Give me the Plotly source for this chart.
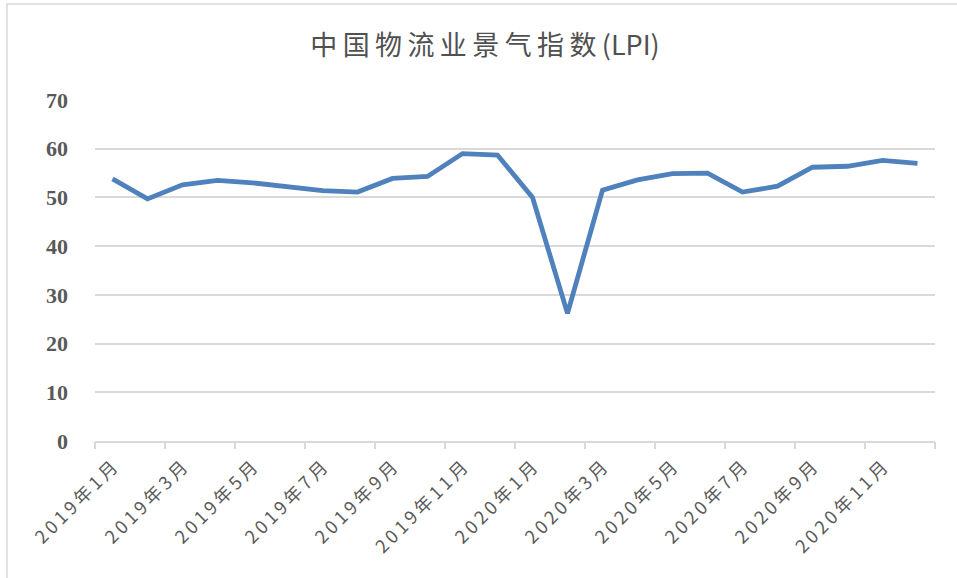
import plotly.graph_objects as go

months = ["2019年1月", "2019年2月", "2019年3月", "2019年4月", "2019年5月", "2019年6月",
          "2019年7月", "2019年8月", "2019年9月", "2019年10月", "2019年11月", "2019年12月",
          "2020年1月", "2020年2月", "2020年3月", "2020年4月", "2020年5月", "2020年6月",
          "2020年7月", "2020年8月", "2020年9月", "2020年10月", "2020年11月", "2020年12月"]
lpi = [53.8, 49.7, 52.6, 53.5, 53.0, 52.2, 51.4, 51.1, 53.9, 54.3,
       59.0, 58.7, 50.0, 26.2, 51.5, 53.6, 54.9, 55.0, 51.1, 52.3,
       56.2, 56.4, 57.6, 57.0]
y_ticks = [0, 10, 20, 30, 40, 50, 60, 70]
title_cjk = "中国物流业景气指数"
title_tail = "(LPI)"

TS = "\u2009"
def spaced(s, sep=TS):
    return sep.join(list(s))

idx = list(range(len(months)))
label_idx = idx[::2]
label_text = [spaced(months[i]) for i in label_idx]
tick_marks = [i - 0.5 for i in idx[::2]] + [len(months) - 0.5]

fig = go.Figure()
fig.add_trace(go.Scatter(
    x=idx, y=lpi, mode="lines",
    line=dict(color="#4F81BD", width=4.8),
    showlegend=False, hoverinfo="x+y",
))
# invisible trace on secondary x axis for tick marks between category pairs
fig.add_trace(go.Scatter(x=[tick_marks[0], tick_marks[-1]], y=[0, 0], xaxis="x2",
                         mode="lines", line=dict(width=0), showlegend=False, hoverinfo="skip"))

fig.update_layout(
    width=957, height=578,
    paper_bgcolor="white", plot_bgcolor="white",
    margin=dict(l=95, r=22, t=100, b=137, autoexpand=False),
    title=dict(text=spaced(title_cjk) + TS + title_tail, x=485 / 957, xref="container",
               xanchor="center", y=1 - 46 / 578, yanchor="middle",
               font=dict(family="Noto Sans CJK SC", size=27, color="#505050")),
    xaxis=dict(range=[-0.5, len(months) - 0.5], tickmode="array", tickvals=label_idx,
               ticktext=label_text, tickangle=-45, ticks="", showgrid=False,
               showline=True, linecolor="#D9D9D9", linewidth=1.5, zeroline=False,
               automargin=False, ticklabelstandoff=7,
               tickfont=dict(family="Noto Sans CJK SC", size=18, color="#595959"),
               fixedrange=True),
    xaxis2=dict(range=[-0.5, len(months) - 0.5], overlaying="x", side="bottom",
                tickmode="array", tickvals=tick_marks, ticks="outside", ticklen=7,
                tickcolor="#D9D9D9", tickwidth=1.5, showticklabels=False,
                showgrid=False, showline=False, zeroline=False, anchor="y", automargin=False),
    yaxis=dict(range=[0, 70], tickmode="array", tickvals=y_ticks, showgrid=True,
               gridcolor="#D9D9D9", gridwidth=1.5, zeroline=False, showline=False,
               ticks="", ticklabelstandoff=26, automargin=False,
               tickfont=dict(family="Liberation Serif", size=22, color="#595959", weight="bold")),
    shapes=[dict(type="rect", xref="paper", yref="paper",
                 x0=(7 - 95) / 840, x1=(965 - 95) / 840,
                 y0=(441 - 590) / 341, y1=(441 - 4) / 341,
                 line=dict(color="#D9D9D9", width=1.5), fillcolor="rgba(0,0,0,0)", layer="below")],
)

fig.write_html("out.html", config={"displayModeBar": False},
               post_script="document.body.style.margin='0';document.body.style.overflow='hidden';")
